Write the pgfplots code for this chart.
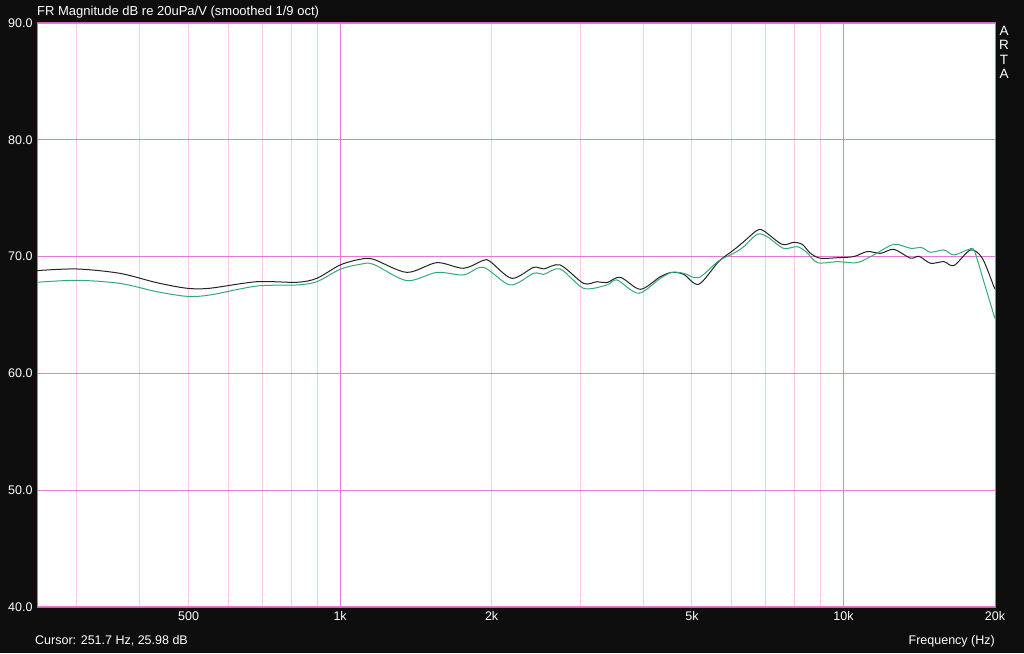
\documentclass[border=0pt]{standalone}
\usepackage{fontspec}
\setmainfont{Liberation Sans}
\usepackage{pgfplots}
\pgfplotsset{compat=1.18}

\definecolor{bgdark}{RGB}{14,14,14}
\definecolor{gridmaj}{RGB}{228,122,210}
\definecolor{gridmin}{RGB}{244,200,238}
\definecolor{frame}{RGB}{205,100,195}
\definecolor{chblack}{RGB}{35,35,35}
\definecolor{chgreen}{RGB}{50,172,118}

\begin{document}
\begin{tikzpicture}[x=1pt,y=1pt]
\useasboundingbox (0,0) rectangle (1024,653);
\fill[bgdark] (0,0) rectangle (1024,653);
\begin{axis}[
    at={(37pt,46pt)}, anchor=south west,
    scale only axis,
    width=958pt, height=584pt,
    xmode=log,
    xmin=250, xmax=20000,
    ymin=40, ymax=90,
    axis background/.style={fill=white},
    axis line style={draw=frame, line width=1pt},
    xtick={500,1000,2000,5000,10000,20000},
    xticklabels={500,1k,2k,5k,10k,20k},
    minor xtick={300,400,500,600,700,800,900,2000,3000,4000,5000,6000,7000,8000,9000},
    extra x ticks={1000,10000},
    extra x tick labels={},
    extra tick style={xmajorgrids=true, major grid style={draw=gridmaj, line width=1.2pt}},
    xmajorgrids=false,
    xminorgrids=true,
    minor grid style={draw=gridmin, line width=1pt},
    ytick={40,50,60,70,80,90},
    yticklabels={40.0,50.0,60.0,70.0,80.0,90.0},
    ymajorgrids=true,
    major grid style={draw=gridmaj, line width=1.2pt},
    major tick length=0pt, minor tick length=0pt,
    tick style={draw=none},
    tick label style={text=white, font=\fontsize{12.5}{14}\selectfont},
    xticklabel style={yshift=-1pt},
    yticklabel style={xshift=-1pt},
    clip=true,
]
\addplot[chblack, line width=1pt, smooth, tension=0.5] coordinates {
(250,68.80) (300,68.94) (365,68.57) (432,67.77) (496,67.29) (551,67.29)
(683,67.85) (820,67.80) (899,68.14) (1000,69.28) (1096,69.77) (1165,69.77)
(1357,68.65) (1557,69.48) (1758,69.00) (1927,69.68) (1988,69.57) (2194,68.14)
(2424,69.08) (2537,68.94) (2737,69.28) (3045,67.71) (3238,67.85) (3390,67.77)
(3603,68.23) (3949,67.20) (4327,68.28) (4564,68.65) (4814,68.48) (5157,67.63)
(5650,69.57) (6053,70.57) (6337,71.28) (6735,72.25) (6945,72.20) (7551,71.05)
(7965,71.22) (8279,71.05) (8600,70.28) (9000,69.86) (9770,69.91) (10480,70.00)
(11150,70.43) (11850,70.28) (12590,70.62) (13590,69.86) (14120,70.03) (14890,69.43)
(15830,69.57) (16570,69.23) (17880,70.57) (18870,69.86) (19900,67.43) (20000,67.30)
};
\addplot[chgreen, line width=1pt, smooth, tension=0.5] coordinates {
(250,67.80) (300,67.97) (365,67.71) (432,67.00) (496,66.60) (551,66.71)
(683,67.48) (820,67.57) (899,67.85) (1000,68.91) (1096,69.34) (1165,69.34)
(1357,67.94) (1557,68.65) (1758,68.43) (1927,69.08) (2177,67.57) (2424,68.57)
(2537,68.48) (2737,68.94) (3045,67.29) (3390,67.57) (3548,68.00) (3917,66.86)
(4327,68.14) (4564,68.65) (4814,68.57) (5157,68.20) (5650,69.63) (6053,70.28)
(6337,70.85) (6735,71.91) (7052,71.71) (7600,70.71) (8090,70.85) (8450,70.37)
(8880,69.48) (9770,69.57) (10640,69.48) (11480,70.14) (12590,71.05) (13590,70.71)
(14300,70.77) (14890,70.37) (15830,70.57) (16570,70.14) (17740,70.62) (18200,70.48)
(19000,67.85) (19900,65.00) (20000,64.80)
};
\end{axis}
\node[anchor=west, text=white, font=\fontsize{13}{15}\selectfont, inner sep=0pt] at (37,641) {FR Magnitude dB re 20uPa/V (smoothed 1/9 oct)};
\node[anchor=west, text=white, font=\fontsize{12.5}{14}\selectfont, inner sep=0pt] at (35,12) {Cursor: 251.7 Hz, 25.98 dB};
\node[anchor=east, text=white, font=\fontsize{12.5}{14}\selectfont, inner sep=0pt] at (995,12) {Frequency (Hz)};
\node[anchor=north, text=white, font=\fontsize{13.5}{14.5}\selectfont, align=center, inner sep=0pt] at (1004,627) {A\\R\\T\\A};
\end{tikzpicture}
\end{document}
